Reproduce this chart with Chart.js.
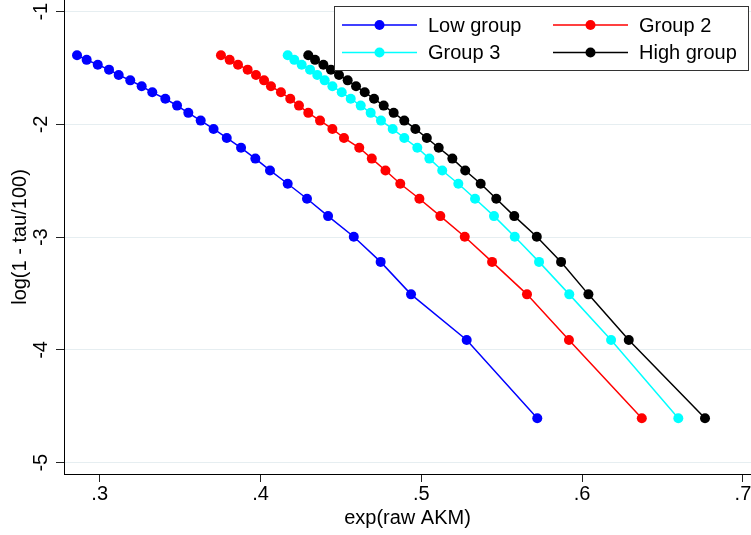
<!DOCTYPE html>
<html>
<head>
<meta charset="utf-8">
<script src="https://cdn.jsdelivr.net/npm/chart.js@4.4.1/dist/chart.umd.min.js"></script>
<style>
  html, body { margin: 0; padding: 0; background: #fff; }
</style>
</head>
<body>
<canvas id="chart" width="751" height="535"></canvas>
<script>
// log(1 - tau/100), tau = 75 ... 99
const tauY = [-1.386, -1.427, -1.470, -1.514, -1.561, -1.609, -1.661, -1.715, -1.772, -1.833,
              -1.897, -1.966, -2.040, -2.120, -2.207, -2.303, -2.408, -2.526, -2.659, -2.813,
              -2.996, -3.219, -3.507, -3.912, -4.605];

const lowX   = [0.2859, 0.2919, 0.2988, 0.3058, 0.3118, 0.3190, 0.3261, 0.3327, 0.3408, 0.3481,
                0.3551, 0.3628, 0.3708, 0.3790, 0.3879, 0.3968, 0.4059, 0.4169, 0.4289, 0.4420,
                0.4580, 0.4747, 0.4936, 0.5282, 0.5721];
const group2X = [0.3754, 0.3808, 0.3860, 0.3920, 0.3972, 0.4022, 0.4065, 0.4127, 0.4185, 0.4239,
                0.4297, 0.4370, 0.4447, 0.4519, 0.4614, 0.4692, 0.4777, 0.4869, 0.4988, 0.5118,
                0.5270, 0.5440, 0.5657, 0.5918, 0.6371];
const group3X = [0.4169, 0.4210, 0.4256, 0.4308, 0.4353, 0.4399, 0.4447, 0.4505, 0.4561, 0.4623,
                0.4685, 0.4749, 0.4822, 0.4894, 0.4975, 0.5050, 0.5130, 0.5230, 0.5334, 0.5452,
                0.5581, 0.5732, 0.5920, 0.6180, 0.6598];
const highX  = [0.4297, 0.4339, 0.4391, 0.4438, 0.4488, 0.4542, 0.4594, 0.4648, 0.4706, 0.4766,
                0.4828, 0.4894, 0.4963, 0.5034, 0.5108, 0.5193, 0.5273, 0.5369, 0.5466, 0.5578,
                0.5718, 0.5869, 0.6039, 0.6290, 0.6764];

const seriesNames  = ['Low group', 'Group 2', 'Group 3', 'High group'];
const seriesColors = ['#0000ff', '#ff0000', '#00ffff', '#000000'];
const seriesX = [lowX, group2X, group3X, highX];

const xTicks = [0.3, 0.4, 0.5, 0.6, 0.7];
const yTicks = [-1, -2, -3, -4, -5];

const FONT = 'Arial, "Liberation Sans", Helvetica, sans-serif';

function pts(xs){
  return xs.map(function(x, i){ return {x: x, y: tauY[i]}; });
}

const datasets = seriesX.map(function(xs, i){
  return {
    label: seriesNames[i],
    data: pts(xs),
    showLine: true,
    borderColor: seriesColors[i],
    backgroundColor: seriesColors[i],
    borderWidth: 1.5,
    pointRadius: 5,
    pointBorderWidth: 0,
    pointHoverRadius: 5,
    clip: false,
    order: 3 - i
  };
});

function noPad(s){
  s.paddingLeft = 0; s.paddingRight = 0; s.paddingTop = 0; s.paddingBottom = 0;
}

// y tick labels are rotated like the original, drawn by hand
const yLabelPlugin = {
  id: 'yLabels',
  afterDraw: function(chart){
    const ctx = chart.ctx, ys = chart.scales.y;
    ctx.save();
    ctx.fillStyle = '#000';
    ctx.font = '20px ' + FONT;
    ctx.textAlign = 'center';
    ctx.textBaseline = 'middle';
    yTicks.forEach(function(v){
      ctx.save();
      ctx.translate(41, ys.getPixelForValue(v));
      ctx.rotate(-Math.PI / 2);
      ctx.fillText(String(v), 0, 0);
      ctx.restore();
    });
    ctx.restore();
  }
};

// boxed two-column legend inside the plot
const legendPlugin = {
  id: 'boxLegend',
  afterDraw: function(chart){
    const ctx = chart.ctx;
    ctx.save();
    ctx.fillStyle = '#fff';
    ctx.fillRect(334, 6, 414, 65);
    ctx.strokeStyle = '#333';
    ctx.lineWidth = 1;
    ctx.strokeRect(334.5, 6.5, 414, 64);
    const cols = [342, 553], rows = [25, 52.5];
    ctx.font = '20px ' + FONT;
    ctx.textBaseline = 'middle';
    ctx.textAlign = 'left';
    chart.data.datasets.forEach(function(ds, i){
      const x0 = cols[i % 2], y0 = rows[Math.floor(i / 2)];
      ctx.strokeStyle = ds.borderColor;
      ctx.lineWidth = 1.5;
      ctx.beginPath();
      ctx.moveTo(x0, y0);
      ctx.lineTo(x0 + 75, y0);
      ctx.stroke();
      ctx.fillStyle = ds.backgroundColor;
      ctx.beginPath();
      ctx.arc(x0 + 37.5, y0, 5, 0, Math.PI * 2);
      ctx.fill();
      ctx.fillStyle = '#000';
      ctx.fillText(ds.label, x0 + 86, y0 + 1);
    });
    ctx.restore();
  }
};

new Chart(document.getElementById('chart').getContext('2d'), {
  type: 'scatter',
  data: {datasets: datasets},
  plugins: [yLabelPlugin, legendPlugin],
  options: {
    responsive: false,
    animation: false,
    devicePixelRatio: 1,
    layout: {autoPadding: false, padding: {top: 0, right: 0, bottom: 0, left: 0}},
    plugins: {legend: {display: false}, tooltip: {enabled: false}},
    scales: {
      x: {
        type: 'linear',
        min: 0.2778,
        max: 0.705,
        afterBuildTicks: function(s){ s.ticks = xTicks.map(function(v){ return {value: v}; }); },
        afterFit: function(s){ s.height = 61; noPad(s); },
        border: {color: '#000', width: 1},
        grid: {drawOnChartArea: false, tickLength: 8, tickColor: '#222'},
        ticks: {
          color: '#000',
          font: {family: FONT, size: 20},
          padding: 0,
          maxRotation: 0,
          callback: function(v){ return v.toFixed(1).replace(/^0/, ''); }
        },
        title: {display: true, text: 'exp(raw AKM)', color: '#000',
                font: {family: FONT, size: 20}, padding: {top: 0, bottom: 5}}
      },
      y: {
        type: 'linear',
        min: -5.1002,
        max: -0.8962,
        afterBuildTicks: function(s){ s.ticks = yTicks.map(function(v){ return {value: v}; }); },
        afterFit: function(s){ s.width = 64; noPad(s); },
        border: {color: '#000', width: 1},
        grid: {color: '#e6eef1', lineWidth: 1, tickLength: 8, tickColor: '#222'},
        ticks: {display: false},
        title: {display: true, text: 'log(1 - tau/100)', color: '#000',
                font: {family: FONT, size: 20}, padding: {top: 8, bottom: 0}}
      }
    }
  }
});
</script>
</body>
</html>
